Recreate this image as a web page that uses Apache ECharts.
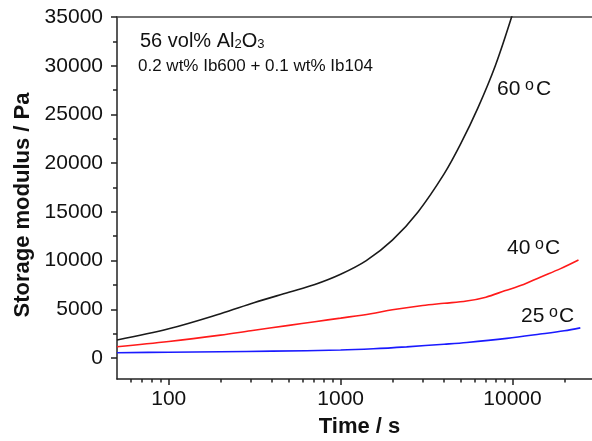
<!DOCTYPE html>
<html>
<head>
<meta charset="utf-8">
<script src="https://cdn.jsdelivr.net/npm/echarts@6/dist/echarts.min.js"></script>
<style>
  html, body { margin: 0; padding: 0; background: #fff; }
  #chart { width: 592px; height: 441px; }
</style>
</head>
<body>
<div id="chart"></div>
<script>
// Axis ticks
const timeTicks = [100, 1000, 10000];
const timeMinorTicks = [60, 70, 80, 90, 200, 300, 400, 500, 600, 700, 800, 900,
  2000, 3000, 4000, 5000, 6000, 7000, 8000, 9000, 20000];
const modulusTicks = [0, 5000, 10000, 15000, 20000, 25000, 30000, 35000];
const modulusMinorTicks = [2500, 7500, 12500, 17500, 22500, 27500, 32500];

// Storage modulus (Pa) vs time (s) at 60 °C
const time60 = [50, 100, 200, 316, 500, 708, 1000, 1410, 2000, 2820, 4000, 5000, 6300, 7940, 10000, 10800];
const modulus60 = [1850, 3000, 4550, 5700, 6750, 7550, 8600, 10000, 12100, 15000, 18900, 22000, 25700, 30000, 35300, 37500];

// 40 °C
const time40 = [50, 100, 200, 300, 500, 708, 1000, 1500, 2000, 3000, 4000, 5400, 7000, 9000, 11600, 14500, 18900, 24200];
const modulus40 = [1160, 1700, 2350, 2800, 3350, 3730, 4100, 4550, 4950, 5400, 5620, 5850, 6250, 6900, 7550, 8300, 9150, 10060];

// 25 °C
const time25 = [50, 100, 200, 400, 1000, 1550, 2420, 4000, 5420, 9270, 14500, 20000, 24800];
const modulus25 = [550, 600, 650, 710, 820, 950, 1150, 1420, 1600, 2020, 2460, 2800, 3100];

const FONT = 'Liberation Sans, Arial, Helvetica, sans-serif';
const INK = '#111';

function pairs(xs, ys) { return xs.map((x, i) => [x, ys[i]]); }

// Temperature label: number, raised small "o", then "C"
function tempLabel(num, left, top, oLeft, cLeft) {
  return {
    type: 'group',
    children: [
      { type: 'text', x: left, y: top, style: { text: num, fontSize: 21, fontFamily: FONT, fill: INK, lineHeight: 21 } },
      { type: 'text', x: oLeft, y: top - 1.5, style: { text: 'o', fontSize: 16, fontFamily: FONT, fill: INK, lineHeight: 16 } },
      { type: 'text', x: cLeft, y: top, style: { text: 'C', fontSize: 21, fontFamily: FONT, fill: INK, lineHeight: 21 } }
    ]
  };
}

const chart = echarts.init(document.getElementById('chart'), null, { renderer: 'canvas' });

const axisColor = '#222';
const xRange = { min: 50, max: 29000 };
const yRange = { min: -2150, max: 35000 };

chart.setOption({
  animation: false,
  backgroundColor: '#fff',
  grid: { left: 117, right: 0, top: 17, bottom: 62, containLabel: false, outerBoundsMode: 'none' },
  xAxis: [
    {
      type: 'log', logBase: 10, ...xRange, position: 'bottom',
      axisLine: { show: true, onZero: false, lineStyle: { color: axisColor, width: 1.5 } },
      axisTick: { show: true, inside: false, length: 6, customValues: timeTicks,
        lineStyle: { color: axisColor, width: 1.5 } },
      axisLabel: { customValues: timeTicks, formatter: v => String(Math.round(v)),
        fontSize: 21, fontFamily: FONT, color: INK, margin: 10 },
      splitLine: { show: false },
      minorTick: { show: false },
      name: 'Time / s', nameLocation: 'middle', nameGap: 37,
      nameTextStyle: { fontSize: 22, fontWeight: 'bold', fontFamily: FONT, color: INK, padding: [0, 0, 0, 10] }
    },
    {
      type: 'log', logBase: 10, ...xRange, position: 'bottom',
      axisLine: { show: false, onZero: false },
      axisTick: { show: true, inside: false, length: 3.5, customValues: timeMinorTicks,
        lineStyle: { color: axisColor, width: 1.5 } },
      axisLabel: { show: false },
      splitLine: { show: false }
    },
    {
      type: 'log', logBase: 10, ...xRange, position: 'top',
      axisLine: { show: true, onZero: false, lineStyle: { color: '#444', width: 1.5 } },
      axisTick: { show: false }, axisLabel: { show: false }, splitLine: { show: false }
    }
  ],
  yAxis: [
    {
      type: 'value', ...yRange, position: 'left',
      axisLine: { show: true, onZero: false, lineStyle: { color: axisColor, width: 1.5 } },
      axisTick: { show: true, inside: false, length: 6, customValues: modulusTicks,
        lineStyle: { color: axisColor, width: 1.5 } },
      axisLabel: { customValues: modulusTicks, formatter: v => String(Math.round(v)),
        fontSize: 21, fontFamily: FONT, color: INK, margin: 14 },
      splitLine: { show: false },
      name: 'Storage modulus / Pa', nameLocation: 'middle', nameRotate: 90, nameGap: 72,
      nameTextStyle: { fontSize: 22, fontWeight: 'bold', fontFamily: FONT, color: INK, padding: [0, 14, 0, 0] }
    },
    {
      type: 'value', ...yRange, position: 'left',
      axisLine: { show: false, onZero: false },
      axisTick: { show: true, inside: false, length: 4, customValues: modulusMinorTicks,
        lineStyle: { color: axisColor, width: 1.5 } },
      axisLabel: { show: false },
      splitLine: { show: false }
    }
  ],
  series: [
    {
      name: '60 °C', type: 'line', xAxisIndex: 0, yAxisIndex: 0,
      data: pairs(time60, modulus60), smooth: 0.35, showSymbol: false, clip: true,
      lineStyle: { color: '#1a1a1a', width: 1.6 }
    },
    {
      name: '40 °C', type: 'line', xAxisIndex: 0, yAxisIndex: 0,
      data: pairs(time40, modulus40), smooth: 0.35, showSymbol: false, clip: true,
      lineStyle: { color: '#ff1a1a', width: 1.6 }
    },
    {
      name: '25 °C', type: 'line', xAxisIndex: 0, yAxisIndex: 0,
      data: pairs(time25, modulus25), smooth: 0.35, showSymbol: false, clip: true,
      lineStyle: { color: '#1a1aff', width: 1.6 }
    }
  ],
  graphic: [
    {
      type: 'text', x: 140, y: 31,
      style: {
        text: '56 vol% Al{s|2}O{s|3}', fontSize: 20, fontFamily: FONT, fill: INK, lineHeight: 20,
        rich: { s: { fontSize: 13, fontFamily: FONT, fill: INK, verticalAlign: 'bottom', lineHeight: 13 } }
      }
    },
    {
      type: 'text', x: 138, y: 58,
      style: { text: '0.2 wt% Ib600 + 0.1 wt% Ib104', fontSize: 17, fontFamily: FONT, fill: INK }
    },
    tempLabel('60', 497, 79, 525, 536),
    tempLabel('40', 507, 238, 535, 545),
    tempLabel('25', 521, 306, 549, 559)
  ]
});
</script>
</body>
</html>
